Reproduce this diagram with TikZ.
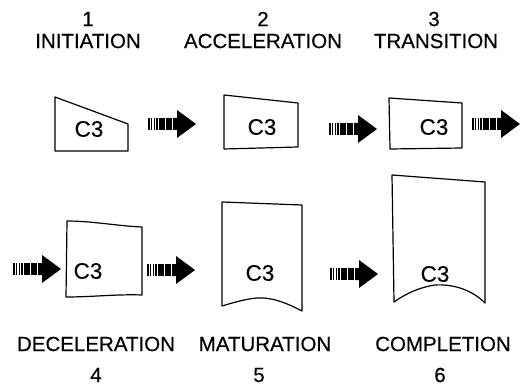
\documentclass[tikz,border=0pt]{standalone}
\usepackage{fontspec}
\setmainfont{Liberation Sans}[FakeBold=0.4]
\begin{document}
\begin{tikzpicture}[x=1pt,y=-1pt,
  lab/.style={font=\fontsize{20.5}{24}\selectfont, inner sep=0pt},
  ctext/.style={font=\fontsize{22.5}{26}\selectfont, inner sep=0pt},
  cell/.style={draw=black, line width=1.2pt, line join=round},
  blockarrow/.pic={
    \foreach \a/\b in {0/1.6,2.8/4.4,5.6/7.2,8.4/10,11.4/16.5,17.8/24}{\fill (\a,-6) rectangle (\b,6);}
    \fill (25,-6) -- (29,-6) -- (29,-14) -- (48,0) -- (29,14) -- (29,6) -- (25,6) -- cycle;
  }]
\useasboundingbox (0,0) rectangle (526,390);

% top labels
\node[lab] (n1) at (88,19) {1};
\node[lab] (l1) at (88,41) {INITIATION};
\node[lab] (n2) at (263,19) {2};
\node[lab] (l2) at (263,41) {ACCELERATION};
\node[lab] (n3) at (434,19) {3};
\node[lab] (l3) at (436,41) {TRANSITION};

% bottom labels
\node[lab] (l4) at (96,344) {DECELERATION};
\node[lab] (n4) at (96,375) {4};
\node[lab] (l5) at (265,344) {MATURATION};
\node[lab] (n5) at (259,375) {5};
\node[lab] (l6) at (443,344) {COMPLETION};
\node[lab] (n6) at (440,375) {6};

% cells
\draw[cell] (55,97) -- (128,124) -- (128,151) -- (55,151) -- cycle;
\node[ctext] (c1) at (89,129) {C3};

\draw[cell] (224,95) -- (298,103) -- (298,147) -- (224,149) -- cycle;
\node[ctext] (c2) at (262,127) {C3};

\draw[cell] (389,98) -- (462,103) -- (462,148) -- (390,149) -- cycle;
\node[ctext] (c3) at (434,127) {C3};

\draw[cell] (67,221) .. controls (92,221) and (118,226) .. (142,227) -- (142,295)
  .. controls (118,294) and (92,297) .. (66,297) -- cycle;
\node[ctext] (c4) at (88,271) {C3};

\draw[cell] (222,202) -- (302,205) -- (302,311)
  .. controls (285,302) and (270,297) .. (257,298)
  .. controls (245,299) and (232,303) .. (222,306) -- cycle;
\node[ctext] (c5) at (260,273) {C3};

\draw[cell] (392,175) -- (485,182) -- (485,303)
  .. controls (470,288) and (450,284) .. (435,285)
  .. controls (420,287) and (405,294) .. (394,302) -- cycle;
\node[ctext] (c6) at (435,274) {C3};

% arrows
\pic at (148,124) {blockarrow};
\pic at (329,129) {blockarrow};
\pic at (472,124) {blockarrow};
\pic at (13,269) {blockarrow};
\pic at (147,270) {blockarrow};
\pic at (330,274) {blockarrow};
\end{tikzpicture}
\end{document}
